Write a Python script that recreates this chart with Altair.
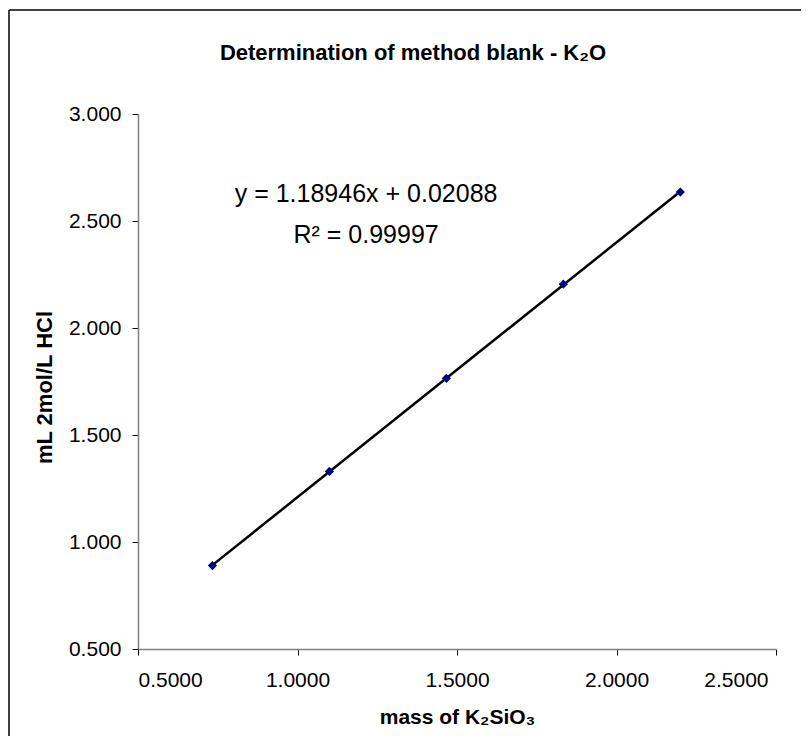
import altair as alt
import pandas as pd

# data
mass = [0.7333, 1.1000, 1.4667, 1.8333, 2.2000]
hcl = [0.890, 1.330, 1.765, 2.205, 2.635]
x_ticks = [0.5, 1.0, 1.5, 2.0, 2.5]
y_ticks = [0.5, 1.0, 1.5, 2.0, 2.5, 3.0]
eq_text = ["y = 1.18946x + 0.02088", "R² = 0.99997"]
eq_x = [1.215, 1.215]
eq_y = [2.589, 2.397]
title_text = "Determination of method blank - K₂O"

FONT = "Liberation Sans"
W, H = 638, 535

df = pd.DataFrame({"mass": mass, "hcl": hcl})
ann = pd.DataFrame({"mass": eq_x, "hcl": eq_y, "text": eq_text})

xs = alt.Scale(domain=[0.5, 2.5], nice=False, zero=False)
ys = alt.Scale(domain=[0.5, 3.0], nice=False, zero=False)

xaxis = alt.Axis(values=x_ticks, format=".4f", title="mass of K₂SiO₃",
                 tickSize=6, labelPadding=14, titleX=W / 2, titleY=68,
                 titleFontSize=21,
                 labelOffset={"condition": {"test": "datum.value >= 2.4", "value": -8},
                              "value": 0},
                 titleBaseline="middle", titleAlign="center")
yaxis = alt.Axis(values=y_ticks, format=".3f", title="mL 2mol/L HCl",
                 tickSize=6, labelPadding=11, titleX=-94, titleY=273,
                 titleFontSize=22,
                 titleAngle=270, titleAlign="center", titleBaseline="middle")

X = alt.X("mass:Q", scale=xs, axis=xaxis, title="mass of K₂SiO₃")
Y = alt.Y("hcl:Q", scale=ys, axis=yaxis, title="mL 2mol/L HCl")

one = pd.DataFrame({"t": [title_text]})
border_left = alt.Chart(one).mark_rule(color="black", strokeWidth=1.5).encode(
    x=alt.value(-129), y=alt.value(-104), y2=alt.value(640))
border_top = alt.Chart(one).mark_rule(color="black", strokeWidth=1.5).encode(
    x=alt.value(-129), x2=alt.value(680), y=alt.value(-104))
title = alt.Chart(one).mark_text(font=FONT, fontSize=22, fontWeight="bold",
                                 align="center", baseline="middle",
                                 color="black").encode(
    x=alt.value(275), y=alt.value(-61), text="t:N")

line = alt.Chart(df).transform_regression("mass", "hcl").mark_line(
    color="black", strokeWidth=2.5).encode(x=X, y=Y)
points = alt.Chart(df).mark_point(shape="diamond", filled=True, color="#000080",
                                  size=85, opacity=1).encode(x=X, y=Y)
eq = alt.Chart(ann).mark_text(font=FONT, fontSize=25, align="center",
                              baseline="alphabetic", color="black").encode(
    x=X, y=Y, text="text:N")

chart = alt.layer(border_left, border_top, title, line, points, eq).properties(
    width=W, height=H,
    autosize=alt.AutoSizeParams(type="none"),
    padding={"left": 130, "top": 106, "right": 25, "bottom": 87},
).configure_view(stroke=None).configure_axis(
    labelFont=FONT, titleFont=FONT, labelFontSize=21, titleFontSize=21,
    labelColor="black", titleColor="black", titleFontWeight="bold",
    domainColor="#808080", domainWidth=1.5, tickColor="black", grid=False,
)

chart.save("out.html", embed_options={"renderer": "svg", "actions": False})
